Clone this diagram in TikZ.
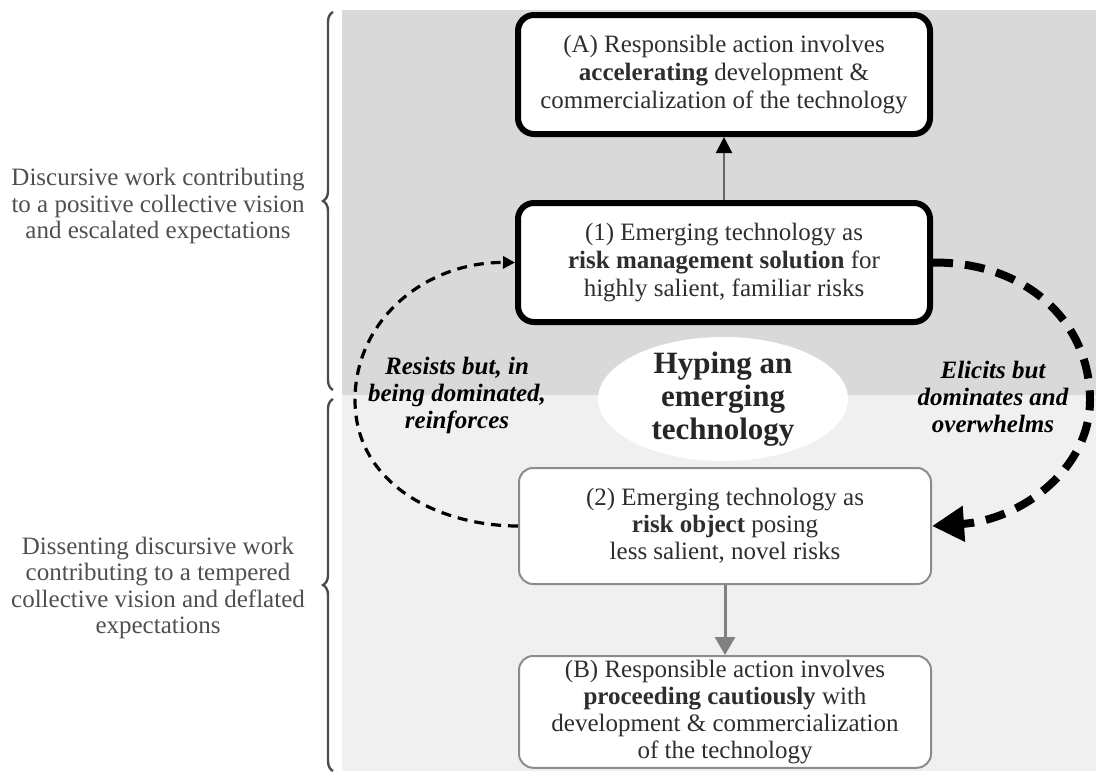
\documentclass[tikz,border=0pt]{standalone}
\usepackage{fontspec}
\setmainfont{Liberation Serif}
\usetikzlibrary{arrows.meta,shapes.geometric,decorations.pathreplacing}

\definecolor{darkbg}{HTML}{D9D9D9}
\definecolor{lightbg}{HTML}{F0F0F0}
\definecolor{boxtext}{HTML}{2E2E2E}
\definecolor{sidetext}{HTML}{4F4F4F}

\begin{document}
\begin{tikzpicture}[x=0.5pt,y=-0.5pt,
    boldbox/.style={draw=black,line width=3pt,rounded corners=8pt,fill=white,
      minimum width=206pt,minimum height=59.5pt,align=center,text=boxtext,
      font=\fontsize{12.5}{14}\selectfont},
    thinbox/.style={draw=black!45,line width=1pt,rounded corners=7pt,fill=white,
      minimum width=206pt,inner ysep=2pt,align=center,text=boxtext,
      font=\fontsize{12.5}{13.5}\selectfont},
    thindash/.style={line width=1.6pt,dash pattern=on 5pt off 3.5pt,
      -{Triangle[length=6pt,width=6pt]}},
    thickdash/.style={line width=4pt,dash pattern=on 10pt off 6pt,
      -{Triangle[length=16pt,width=17pt]}},
    looplabel/.style={align=center,font=\fontsize{12.5}{13.5}\selectfont\bfseries\itshape},
    sidelabel/.style={align=center,text=sidetext,font=\fontsize{12.5}{13.3}\selectfont},
    sidebrace/.style={decorate,decoration={brace,amplitude=5pt},line width=1.2pt,draw=black!70}]

  \useasboundingbox (0,0) rectangle (1096,771);
  \fill[darkbg] (342,10) rectangle (1096,395);
  \fill[lightbg] (342,395) rectangle (1096,771);

  \node[ellipse,fill=white,minimum width=125pt,minimum height=62pt,inner sep=-6pt,
    align=center,text=black!85,font=\fontsize{15.5}{16.5}\selectfont\bfseries]
    (hype) at (723,399) {Hyping an\\emerging\\technology};

  \node[boldbox] (actA) at (724,74.5)
    {(A) Responsible action involves\\\textbf{accelerating} development \&\\commercialization of the technology};
  \node[boldbox] (risk1) at (724,262.5)
    {(1) Emerging technology as\\\textbf{risk management solution} for\\highly salient, familiar risks};
  \node[thinbox,minimum height=58pt] (risk2) at (725,526)
    {(2) Emerging technology as\\\textbf{risk object} posing\\less salient, novel risks};
  \node[thinbox,anchor=north] (actB) at (725,655)
    {(B) Responsible action involves\\\textbf{proceeding cautiously} with\\development \& commercialization\\of the technology};

  \draw[black!60,line width=1pt,-{Triangle[length=8pt,width=8pt,black]}] (risk1) -- (actA);
  \draw[black!50,line width=1.5pt,-{Triangle[length=9pt,width=10pt]}] (risk2) -- (actB);

  \coordinate (lbend) at (355,400);
  \coordinate (rbend) at (1090,400);
  \draw[thindash] (risk2.west) .. controls (440,526) and (355,485) .. (lbend)
    .. controls (355,320) and (425,262) .. (risk1.west);
  \draw[thickdash] (risk1.east) .. controls (1030,262) and (1090,325) .. (rbend)
    .. controls (1090,470) and (1020,520) .. (risk2.east);

  \node[looplabel] (resist) at (457,395) {Resists but, in\\being dominated,\\reinforces};
  \node[looplabel] (elicit) at (993,397) {Elicits but\\dominates and\\overwhelms};

  \node[sidelabel] (posvision) at (158,206)
    {Discursive work contributing\\to a positive collective vision\\and escalated expectations};
  \node[sidelabel] (tempered) at (158,588)
    {Dissenting discursive work\\contributing to a tempered\\collective vision and deflated\\expectations};
  \draw[sidebrace] (333,390) -- (333,12);
  \draw[sidebrace] (333,771) -- (333,399);
\end{tikzpicture}
\end{document}
